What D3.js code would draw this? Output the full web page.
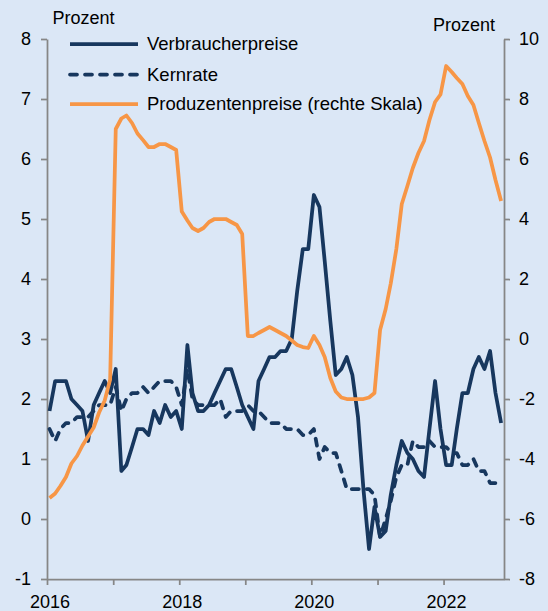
<!DOCTYPE html>
<html>
<head>
<meta charset="utf-8">
<script src="https://cdn.jsdelivr.net/npm/d3@7"></script>
<style>
  body { margin: 0; background: #dbe7f6; }
  svg { display: block; font-family: "Liberation Sans", Arial, sans-serif; }
  .axis path, .axis line { stroke: #868686; stroke-width: 1.75; }
  .axis text { font-size: 18px; fill: #000; font-family: "Liberation Sans", Arial, sans-serif; }
  .series { fill: none; stroke-width: 3.75; stroke-linejoin: round; }
  .label { font-size: 18px; fill: #000; }
  .legend { font-size: 18.5px; fill: #000; }
</style>
</head>
<body>
<script>
var w = 548;
var h = 611;

// monthly, Jan 2016 .. Nov 2022
var months = d3.timeMonth.range(new Date(2016, 0, 1), new Date(2022, 11, 1));

var verbraucherpreise = [
  1.8, 2.3, 2.3, 2.3, 2.0, 1.9, 1.8, 1.3, 1.9, 2.1, 2.3, 2.1,
  2.5, 0.8, 0.9, 1.2, 1.5, 1.5, 1.4, 1.8, 1.6, 1.9, 1.7, 1.8,
  1.5, 2.9, 2.1, 1.8, 1.8, 1.9, 2.1, 2.3, 2.5, 2.5, 2.2, 1.9,
  1.7, 1.5, 2.3, 2.5, 2.7, 2.7, 2.8, 2.8, 3.0, 3.8, 4.5, 4.5,
  5.4, 5.2, 4.3, 3.3, 2.4, 2.5, 2.7, 2.4, 1.7, 0.5, -0.5, 0.2,
  -0.3, -0.2, 0.4, 0.9, 1.3, 1.1, 1.0, 0.8, 0.7, 1.5, 2.3, 1.5,
  0.9, 0.9, 1.5, 2.1, 2.1, 2.5, 2.7, 2.5, 2.8, 2.1, 1.6
];

var kernrate = [
  1.5, 1.3, 1.5, 1.6, 1.6, 1.7, 1.7, 1.7, 1.8, 1.9, 1.9, 1.9,
  2.2, 1.8, 2.0, 2.1, 2.1, 2.2, 2.1, 2.2, 2.3, 2.3, 2.3, 2.2,
  1.9, 2.5, 2.0, 1.9, 1.9, 1.9, 1.9, 2.0, 1.7, 1.8, 1.8, 1.8,
  1.9, 1.8, 1.8, 1.7, 1.6, 1.6, 1.6, 1.5, 1.5, 1.5, 1.4, 1.4,
  1.5, 1.0, 1.2, 1.1, 1.1, 0.8, 0.5, 0.5, 0.5, 0.5, 0.5, 0.4,
  -0.3, 0.0, 0.3, 0.7, 0.9, 0.9, 1.3, 1.2, 1.2, 1.3, 1.2, 1.2,
  1.2, 1.1, 1.1, 0.9, 0.9, 1.0, 0.8, 0.8, 0.6, 0.6, 0.6
];

// right scale
var produzentenpreise = [
  -5.3, -5.15, -4.9, -4.6, -4.15, -3.9, -3.55, -3.25, -2.95, -2.45, -2.05, -1.35,
  7.0, 7.35, 7.45, 7.2, 6.85, 6.63, 6.4, 6.4, 6.5, 6.5, 6.4, 6.3,
  4.25, 3.95, 3.7, 3.6, 3.7, 3.9, 4.0, 4.0, 4.0, 3.9, 3.8, 3.5,
  0.1, 0.1, 0.2, 0.3, 0.4, 0.3, 0.2, 0.1, -0.05, -0.2, -0.27, -0.3,
  0.1, -0.2, -0.6, -1.3, -1.75, -1.95, -2.0, -2.0, -2.0, -2.0, -1.95, -1.8,
  0.3, 1.0, 1.85, 3.0, 4.5, 5.1, 5.7, 6.2, 6.6, 7.3, 7.9, 8.15,
  9.1, 8.9, 8.7, 8.5, 8.1, 7.8, 7.2, 6.6, 6.05, 5.3, 4.6
];

var leftTicks = [-1, 0, 1, 2, 3, 4, 5, 6, 7, 8];
var rightTicks = [-8, -6, -4, -2, 0, 2, 4, 6, 8, 10];
var years = [2016, 2017, 2018, 2019, 2020, 2021, 2022];
var yearLabels = ["2016", "", "2018", "", "2020", "", "2022"];
var legendLabels = ["Verbraucherpreise", "Kernrate", "Produzentenpreise (rechte Skala)"];

var navy = "#17375e";
var orange = "#f79646";

var svg = d3.select("body")
    .append("svg")
    .attr("width", w)
    .attr("height", h);

svg.append("rect")
    .attr("width", "100%")
    .attr("height", "100%")
    .attr("fill", "#dbe7f6");

var xScale = d3.scaleTime()
    .domain([new Date(2016, 0, 1), new Date(2022, 11, 1)])
    .range([47, 504]);

var yLeft = d3.scaleLinear().domain([-1, 8]).range([579, 39]);
var yRight = d3.scaleLinear().domain([-8, 10]).range([579, 39]);

// plain hyphen for negatives, like the original
var plain = function(d) { return String(d); };

// points sit mid-month
function pts(values) {
  return values.map(function(v, i) {
    return { date: d3.timeDay.offset(months[i], 14), v: v };
  });
}

svg.append("g")
    .attr("class", "axis")
    .attr("transform", "translate(47,0)")
    .call(d3.axisLeft(yLeft).tickValues(leftTicks).tickFormat(plain)
        .tickSize(6).tickSizeOuter(0).tickPadding(10));

svg.append("g")
    .attr("class", "axis")
    .attr("transform", "translate(504,0)")
    .call(d3.axisRight(yRight).tickValues(rightTicks).tickFormat(plain)
        .tickSize(6).tickSizeOuter(0).tickPadding(9));

svg.append("g")
    .attr("class", "axis")
    .attr("transform", "translate(0,579)")
    .call(d3.axisBottom(xScale)
        .tickValues(years.map(function(y) { return new Date(y, 0, 1); }))
        .tickFormat(function(d, i) { return yearLabels[i]; })
        .tickSize(6).tickSizeOuter(0).tickPadding(10))
    .selectAll("text")
    .attr("dx", 2.5);

var lineL = d3.line()
    .x(function(d) { return xScale(d.date); })
    .y(function(d) { return yLeft(d.v); });

var lineR = d3.line()
    .x(function(d) { return xScale(d.date); })
    .y(function(d) { return yRight(d.v); });

svg.append("path")
    .datum(pts(verbraucherpreise))
    .attr("class", "series")
    .attr("stroke", navy)
    .attr("d", lineL);

svg.append("path")
    .datum(pts(kernrate))
    .attr("class", "series")
    .attr("stroke", navy)
    .attr("stroke-dasharray", "7,8")
    .attr("stroke-linecap", "round")
    .attr("d", lineL);

svg.append("path")
    .datum(pts(produzentenpreise))
    .attr("class", "series")
    .attr("stroke", orange)
    .attr("d", lineR);

// legend
var legendY = [44, 74.5, 104];
var legendColors = [navy, navy, orange];
var legendDash = [null, "7,8", null];

legendLabels.forEach(function(t, i) {
  svg.append("line")
      .attr("x1", 70)
      .attr("x2", 138)
      .attr("y1", legendY[i])
      .attr("y2", legendY[i])
      .attr("stroke", legendColors[i])
      .attr("stroke-width", 3.75)
      .attr("stroke-dasharray", legendDash[i])
      .attr("stroke-linecap", legendDash[i] ? "round" : "butt");

  svg.append("text")
      .attr("class", "legend")
      .attr("x", 147)
      .attr("y", legendY[i])
      .attr("dy", "0.35em")
      .text(t);
});

svg.append("text")
    .attr("class", "label")
    .attr("x", 52.5)
    .attr("y", 24)
    .text("Prozent");

svg.append("text")
    .attr("class", "label")
    .attr("x", 433)
    .attr("y", 31)
    .text("Prozent");
</script>
</body>
</html>
